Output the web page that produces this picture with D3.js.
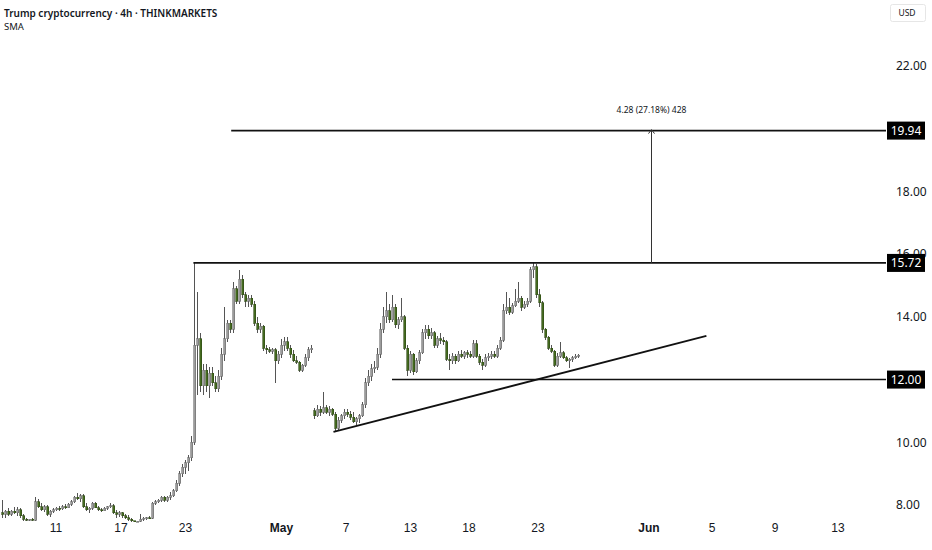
<!DOCTYPE html>
<html>
<head>
<meta charset="utf-8">
<script src="https://cdn.jsdelivr.net/npm/d3@7"></script>
<style>
  body { margin: 0; background: #fff; }
  svg { display: block; font-family: "Noto Sans", "Open Sans", sans-serif; }
</style>
</head>
<body>
<svg id="chart"></svg>
<script>
// 4h candles, [open, high, low, close]
const ohlc = [
  [7.75,8.15,7.6,7.7],[7.7,7.85,7.6,7.8],[7.8,7.9,7.65,7.7],[7.7,7.85,7.65,7.8],[7.8,7.95,7.7,7.75],
  [7.75,7.95,7.65,7.85],[7.85,7.9,7.6,7.65],[7.65,7.7,7.5,7.55],[7.55,7.58,7.5,7.53],[7.53,7.56,7.5,7.54],
  [7.54,7.58,7.5,7.52],[7.52,8.25,7.5,8.1],[8.1,8.2,7.9,7.95],[7.95,8.05,7.8,7.85],[7.85,8.0,7.78,7.95],
  [7.95,8.0,7.65,7.7],[7.7,7.85,7.62,7.8],[7.8,7.9,7.75,7.85],[7.85,7.95,7.8,7.9],[7.9,7.98,7.82,7.88],
  [7.88,8.0,7.84,7.95],[7.95,8.02,7.88,7.92],[7.92,8.05,7.9,8.02],[8.02,8.15,7.98,8.1],[8.1,8.3,8.05,8.25],
  [8.25,8.38,8.15,8.2],[8.2,8.35,8.1,8.3],[8.3,8.35,7.9,7.95],[7.95,8.05,7.8,7.85],[7.85,7.95,7.75,7.9],
  [7.9,8.1,7.85,8.05],[8.05,8.1,7.9,7.92],[7.92,7.98,7.8,7.85],[7.85,7.92,7.78,7.82],[7.82,7.95,7.8,7.9],
  [7.9,7.98,7.85,7.95],[7.95,8.05,7.9,7.98],[7.98,8.02,7.7,7.75],[7.75,7.85,7.6,7.7],[7.7,7.8,7.62,7.75],
  [7.75,7.78,7.6,7.65],[7.65,7.72,7.55,7.6],[7.6,7.68,7.5,7.55],[7.55,7.6,7.45,7.5],[7.5,7.5,7.48,7.48],
  [7.48,7.5,7.47,7.48],[7.48,7.7,7.45,7.55],[7.55,7.62,7.5,7.58],[7.58,7.62,7.52,7.6],[7.6,7.65,7.55,7.58],
  [7.58,8.1,7.56,8.05],[8.05,8.15,8.0,8.1],[8.1,8.2,8.05,8.15],[8.15,8.3,8.1,8.25],[8.25,8.3,8.1,8.15],
  [8.15,8.3,8.1,8.25],[8.25,8.4,8.15,8.3],[8.3,8.5,8.25,8.45],[8.45,8.8,8.4,8.7],[8.7,9.1,8.6,9.0],
  [9.0,9.3,8.9,9.2],[9.2,9.45,9.0,9.35],[9.35,9.6,9.1,9.5],[9.5,10.2,9.4,10.0],[10.0,15.72,9.9,13.1],
  [13.1,14.8,11.5,13.3],[13.3,13.5,11.6,11.8],[11.8,12.5,11.5,12.3],[12.3,12.5,11.6,11.8],[11.8,12.4,11.4,12.2],
  [12.2,12.4,11.8,11.9],[11.9,12.1,11.6,11.7],[11.7,12.3,11.6,12.1],[12.1,13.0,12.0,12.8],[12.8,14.3,12.6,13.3],
  [13.3,13.9,13.2,13.8],[13.8,13.9,13.5,13.6],[13.6,15.1,13.5,14.9],[14.9,15.0,14.4,14.5],[14.5,15.5,14.4,15.2],
  [15.2,15.35,14.6,14.7],[14.7,14.8,14.3,14.5],[14.5,14.7,14.3,14.6],[14.6,14.7,14.3,14.4],[14.4,14.5,13.7,13.8],
  [13.8,14.0,13.5,13.6],[13.6,13.8,13.5,13.7],[13.7,13.75,12.9,13.0],[13.0,13.1,12.8,12.95],[12.95,13.05,12.85,12.9],
  [12.9,13.0,12.8,12.95],[12.95,13.0,11.9,12.6],[12.6,12.9,12.5,12.8],[12.8,13.3,12.7,13.1],[13.1,13.36,12.9,13.2],
  [13.2,13.35,12.9,13.0],[13.0,13.1,12.7,12.8],[12.8,12.95,12.55,12.6],[12.6,12.75,12.5,12.55],[12.55,12.6,12.25,12.3],
  [12.3,12.5,12.25,12.45],[12.45,12.8,12.4,12.7],[12.7,13.05,12.6,12.95],[12.95,13.1,12.85,13.0],[11.0,11.1,10.75,10.85],
  [10.85,11.2,10.8,11.05],[11.05,11.15,10.85,10.95],[10.95,11.6,10.9,11.1],[11.1,11.2,10.9,10.95],[10.95,11.15,10.85,11.05],
  [11.05,11.1,10.85,10.9],[10.9,10.95,10.32,10.45],[10.45,10.8,10.4,10.7],[10.7,10.9,10.6,10.85],[10.85,11.05,10.75,10.95],
  [10.95,11.05,10.8,10.9],[10.9,11.0,10.7,10.8],[10.8,10.95,10.6,10.65],[10.65,10.8,10.55,10.75],[10.75,10.9,10.6,10.85],
  [10.85,11.3,10.8,11.2],[11.2,12.05,11.1,11.9],[11.9,12.3,11.8,12.1],[12.1,12.5,11.95,12.35],[12.35,12.6,12.2,12.4],
  [12.4,13.0,12.3,12.8],[12.8,13.8,12.7,13.6],[13.6,14.3,13.5,14.0],[14.0,14.8,13.8,14.2],[14.2,14.4,13.8,13.9],
  [13.9,14.7,13.85,14.3],[14.3,14.4,13.65,13.75],[13.75,14.0,13.6,13.9],[13.9,14.6,13.85,14.0],[14.0,14.05,12.95,13.0],
  [13.0,13.1,12.1,12.3],[12.3,12.9,12.2,12.8],[12.8,12.85,12.15,12.25],[12.25,12.7,12.2,12.6],[12.6,12.95,12.5,12.85],
  [12.85,13.6,12.8,13.5],[13.5,13.75,13.3,13.6],[13.6,13.75,13.3,13.4],[13.4,13.65,13.3,13.5],[13.5,13.55,13.0,13.1],
  [13.1,13.4,13.0,13.3],[13.3,13.5,13.15,13.25],[13.25,13.35,13.1,13.2],[13.2,13.25,12.6,12.65],[12.65,12.8,12.3,12.6],
  [12.6,12.85,12.5,12.75],[12.75,12.8,12.5,12.6],[12.6,12.9,12.55,12.8],[12.8,12.95,12.7,12.75],[12.75,12.9,12.65,12.85],
  [12.85,12.95,12.7,12.8],[12.8,12.9,12.7,12.75],[12.75,13.25,12.7,13.15],[13.15,13.25,12.7,12.75],[12.75,12.8,12.45,12.55],
  [12.55,12.65,12.3,12.45],[12.45,12.8,12.4,12.7],[12.7,12.85,12.6,12.75],[12.75,12.9,12.65,12.8],[12.8,12.9,12.7,12.75],
  [12.75,13.1,12.7,13.0],[13.0,13.35,12.95,13.25],[13.25,14.4,13.2,14.2],[14.2,14.8,14.1,14.3],[14.3,14.6,14.05,14.15],
  [14.15,14.45,14.1,14.35],[14.35,14.9,14.3,14.5],[14.5,15.1,14.45,14.6],[14.6,14.65,14.2,14.3],[14.3,14.5,14.25,14.4],
  [14.4,14.6,14.3,14.5],[14.5,15.6,14.45,15.5],[15.5,15.72,15.25,15.6],[15.6,15.7,14.6,14.7],[14.7,14.9,14.3,14.45],
  [14.45,14.5,13.5,13.6],[13.6,13.65,13.25,13.35],[13.35,13.4,12.95,13.0],[13.0,13.1,12.85,12.9],[12.9,12.95,12.4,12.45],
  [12.45,12.85,12.4,12.75],[12.75,13.2,12.7,12.85],[12.85,12.9,12.65,12.7],[12.7,12.75,12.55,12.6],[12.6,12.7,12.37,12.65],
  [12.65,12.75,12.55,12.7],[12.7,12.8,12.65,12.75],[12.75,12.82,12.7,12.78]
];

// 12.00 and 20.00 sit under the level boxes, so they are left out
const priceTicks = [8, 10, 14, 16, 18, 22];
const dateLabels = ['11', '17', '23', 'May', '7', '13', '18', '23', 'Jun', '5', '9', '13'];
const dateSlots  = [17.8, 39.5, 61, 93, 114.5, 136, 155.5, 178.5, 215.5, 236.5, 257.5, 278.5];

// drawn levels: [price, first bar]
const levels = [[15.72, 63.8], [19.94, 76.4], [12.00, 130]];
const trend = [[110.5, 10.33], [234.8, 13.39]];
const measure = { slot: 216.3, from: 15.72, to: 19.94, text: '4.28 (27.18%) 428' };

const width = 932;
const height = 550;
const plotRight = 886;

const svg = d3.select('#chart').attr('width', width).attr('height', height);
svg.append('rect').attr('width', width).attr('height', height).attr('fill', '#fff');

const x = d3.scaleLinear().domain([0, 295]).range([2, 2 + 3 * 295]);
const y = d3.scaleLinear().domain([8, 22]).range([505, 66]);

// price axis
const yAxis = d3.axisRight(y).tickValues(priceTicks).tickSize(0).tickPadding(0)
  .tickFormat(d3.format('.2f'));
const gy = svg.append('g').attr('transform', 'translate(896,0)').call(yAxis);
gy.select('.domain').remove();
gy.selectAll('text').attr('font-size', 12).attr('fill', '#131722').attr('font-family', '"Noto Sans", sans-serif');

// time axis
const xAxis = d3.axisBottom(x).tickValues(dateSlots).tickSize(0).tickPadding(0)
  .tickFormat((d, i) => dateLabels[i]);
const gx = svg.append('g').attr('transform', 'translate(0,527)').call(xAxis);
gx.select('.domain').remove();
gx.selectAll('text').attr('font-size', 12).attr('fill', '#131722').attr('dy', '0.4em')
  .attr('font-weight', (d, i) => (dateLabels[i] === 'May' || dateLabels[i] === 'Jun') ? 600 : 400);

// candles
const cg = svg.append('g').attr('shape-rendering', 'crispEdges');
cg.selectAll('line.wick')
  .data(ohlc)
  .enter()
  .append('line')
  .attr('x1', (d, i) => Math.round(x(i)) + 0.5)
  .attr('x2', (d, i) => Math.round(x(i)) + 0.5)
  .attr('y1', d => y(d[1]))
  .attr('y2', d => y(d[2]))
  .attr('stroke', '#555')
  .attr('stroke-width', 1);

cg.selectAll('rect.body')
  .data(ohlc)
  .enter()
  .append('rect')
  .attr('x', (d, i) => Math.round(x(i)) - 0.5)
  .attr('y', d => y(Math.max(d[0], d[3])))
  .attr('width', 2)
  .attr('height', d => Math.max(1, Math.abs(y(d[0]) - y(d[3]))))
  .attr('fill', d => d[3] >= d[0] ? '#9c9c9c' : '#456b1f')
  .attr('stroke', d => d[3] >= d[0] ? '#6e6e6e' : '#2f4a14')
  .attr('stroke-width', 0.6);

// horizontal levels
svg.selectAll('line.level')
  .data(levels)
  .enter()
  .append('line')
  .attr('x1', d => x(d[1]))
  .attr('x2', plotRight)
  .attr('y1', d => y(d[0]))
  .attr('y2', d => y(d[0]))
  .attr('stroke', '#111')
  .attr('stroke-width', 1.6);

// trend line
svg.append('line')
  .attr('x1', x(trend[0][0])).attr('y1', y(trend[0][1]))
  .attr('x2', x(trend[1][0])).attr('y2', y(trend[1][1]))
  .attr('stroke', '#111')
  .attr('stroke-width', 1.8);

// measurement
const mx = Math.round(x(measure.slot)) + 0.5;
svg.append('line')
  .attr('x1', mx).attr('x2', mx)
  .attr('y1', y(measure.from)).attr('y2', y(measure.to))
  .attr('stroke', '#333').attr('stroke-width', 1);
svg.append('path')
  .attr('d', `M${mx - 3},${y(measure.to) + 3} L${mx},${y(measure.to) - 1} L${mx + 3},${y(measure.to) + 3}`)
  .attr('fill', 'none').attr('stroke', '#333').attr('stroke-width', 1);
svg.append('text')
  .attr('x', mx).attr('y', y(measure.to) - 18)
  .attr('text-anchor', 'middle')
  .attr('font-size', 8.5)
  .attr('fill', '#131722')
  .text(measure.text);

// price label boxes
const boxes = svg.selectAll('g.box')
  .data(levels)
  .enter()
  .append('g')
  .attr('transform', d => `translate(887,${y(d[0])})`);
boxes.append('rect')
  .attr('x', 0).attr('y', -9).attr('width', 38).attr('height', 18)
  .attr('fill', '#000');
boxes.append('text')
  .attr('x', 19).attr('y', 0).attr('dy', '0.36em')
  .attr('text-anchor', 'middle')
  .attr('font-size', 12).attr('fill', '#fff')
  .text(d => d[0].toFixed(2));

// currency box
svg.append('rect')
  .attr('x', 890.5).attr('y', 4.5).attr('width', 35).attr('height', 17).attr('rx', 2)
  .attr('fill', '#fff').attr('stroke', '#e6e6e6');
svg.append('text')
  .attr('x', 907).attr('y', 13).attr('dy', '0.35em').attr('text-anchor', 'middle')
  .attr('font-size', 8.5).attr('fill', '#131722').text('USD');

// title
svg.append('text')
  .attr('x', 4).attr('y', 17)
  .attr('font-size', 10).attr('font-weight', 600).attr('fill', '#131722')
  .text('Trump cryptocurrency · 4h · THINKMARKETS');
svg.append('text')
  .attr('x', 4).attr('y', 30)
  .attr('font-size', 9.5).attr('fill', '#131722')
  .text('SMA');
</script>
</body>
</html>
